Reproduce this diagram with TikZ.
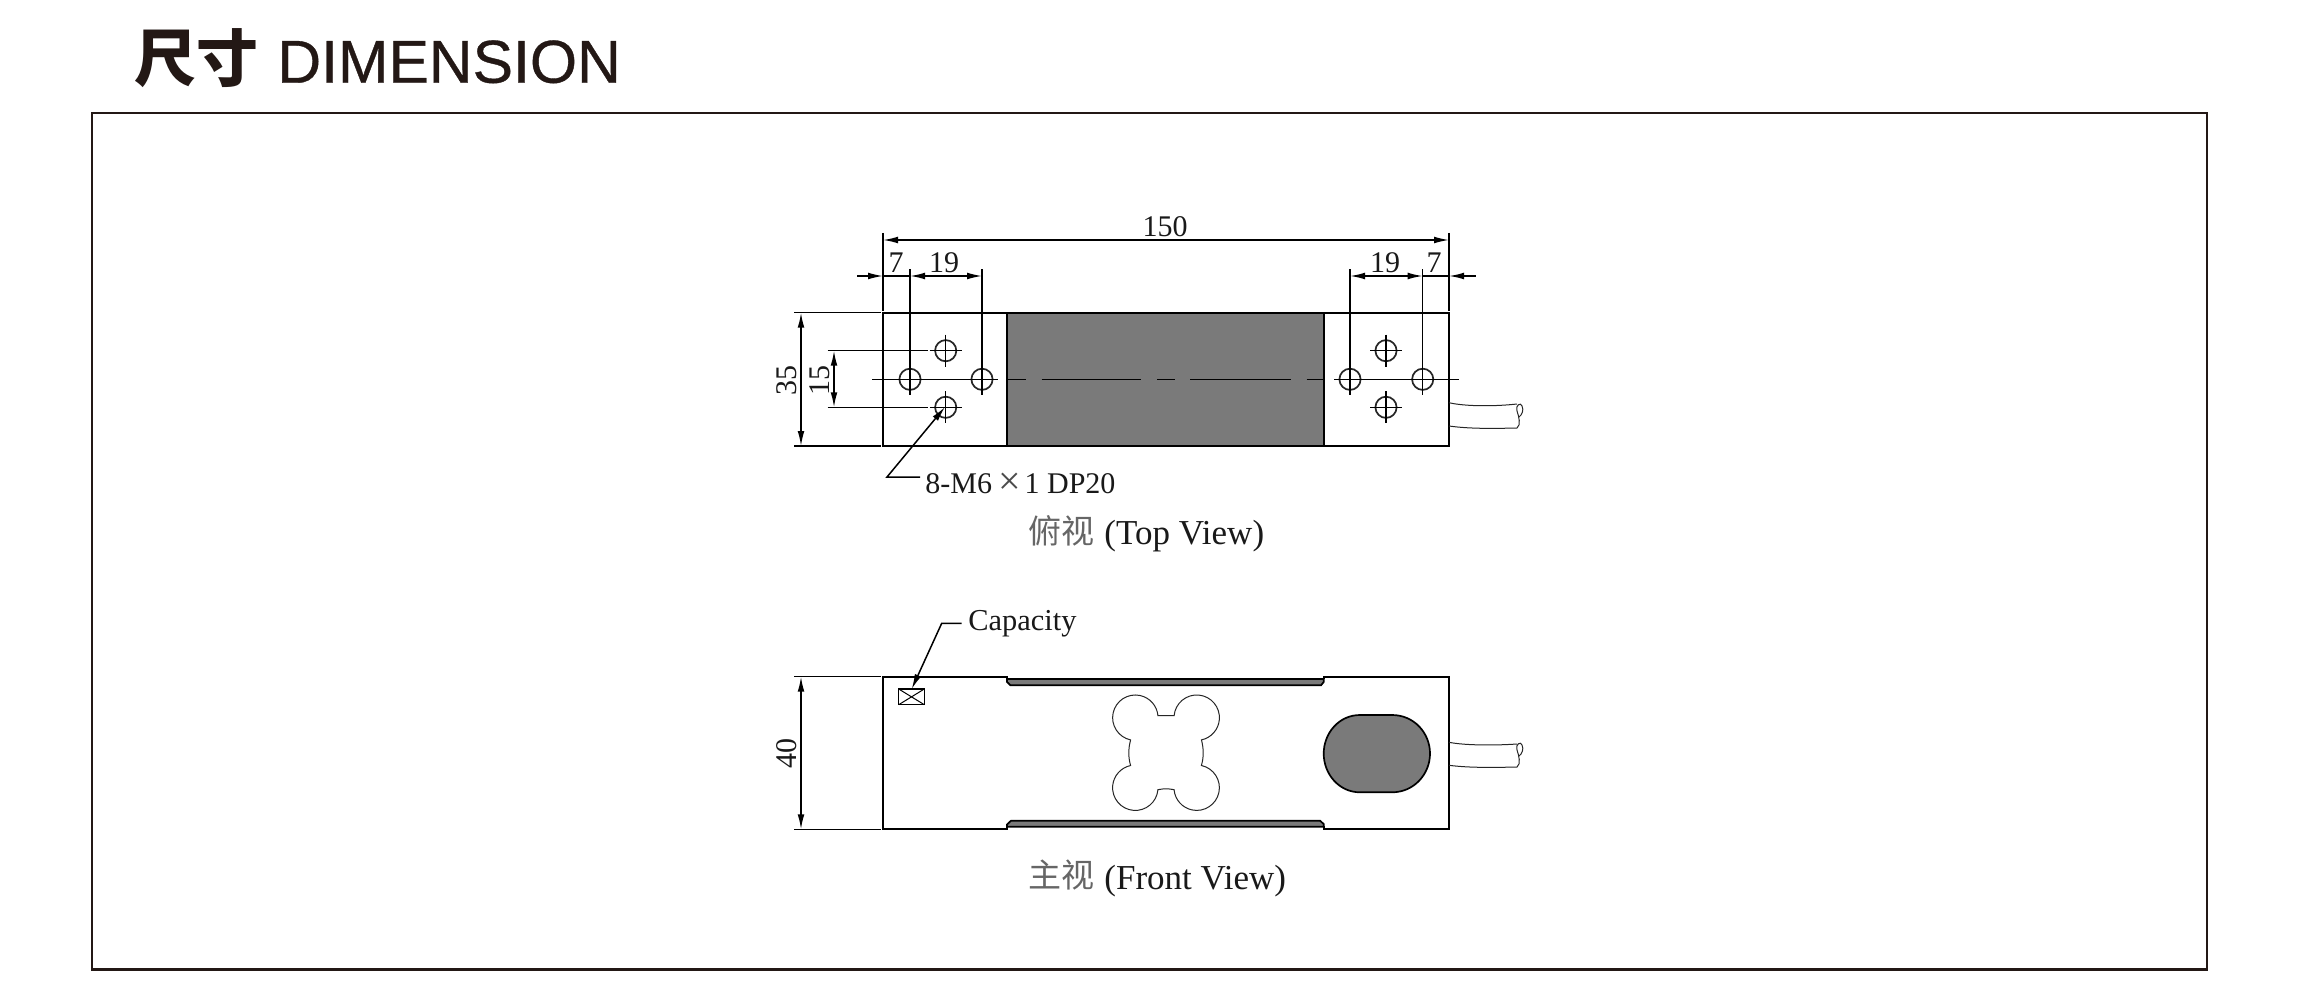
\documentclass[tikz,border=0pt]{standalone}
\usepackage{fontspec}
\setmainfont{Liberation Serif}
\newfontfamily\cjk{Noto Sans CJK SC}
\newfontfamily\ttl[FakeBold=0.6]{Liberation Sans}
\usetikzlibrary{arrows.meta}
\definecolor{ink}{HTML}{231815}
\definecolor{fillgrey}{HTML}{7A7A7A}
\tikzset{
  part/.style={draw=black,line width=0.85pt},
  thin part/.style={draw=black!85,line width=0.5pt},
  dimline/.style={draw=black,line width=0.75pt},
  ext/.style={draw=black,line width=0.75pt},
  dimarrow/.style={dimline,-{Latex[length=7.5pt,width=3.4pt]}},
  dimboth/.style={dimline,{Latex[length=7.5pt,width=3.4pt]}-{Latex[length=7.5pt,width=3.4pt]}},
  lbl/.style={inner sep=0pt,font=\fontsize{15}{15}\selectfont,text=black!90},
  captxt/.style={inner sep=0pt,font=\fontsize{17.5}{17.5}\selectfont,text=black!90},
  capcjk/.style={inner sep=0pt,font=\cjk\fontsize{16.5}{16.5}\selectfont,text=black!60},
  hole/.style={draw=black!85,line width=0.85pt},
}
\newcommand{\holecross}[2]{%
  \draw[hole] (#1,#2) circle[radius=5.3pt];
  \draw[dimline] (#1-16,#2) -- (#1+16,#2);
  \draw[dimline] (#1,#2-16) -- (#1,#2+16);
}
\begin{document}
\begin{tikzpicture}[x=0.5pt,y=-0.5pt]
\useasboundingbox (0,0) rectangle (2300,1000);
\fill[white] (0,0) rectangle (2300,1000);
% title and frame
\node[anchor=center,inner sep=0pt,text=ink,font=\cjk\bfseries\fontsize{31}{31}\selectfont] (ttlcn) at (196,58) {尺寸};
\node[anchor=base west,inner sep=0pt,text=ink,font=\ttl\fontsize{30.3}{30.3}\selectfont] (ttlen) at (277,82.7) {DIMENSION};
\draw[ink,line width=1.2pt] (92,113) rectangle (2207,969.3);

% ---------- top view
\draw[part,fill=fillgrey] (1007,312.7) rectangle (1323.7,446);
\draw[part] (883,312.7) rectangle (1449,446);
% centre line
\coordinate (cL) at (872,379.3); \coordinate (cR) at (1459,379.3);
\draw[dimline] (cL) -- (997,379.3);
\draw[dimline] (1007,379.3) -- (1025.7,379.3);
\draw[dimline] (1041.7,379.3) -- (1141,379.3);
\draw[dimline] (1157,379.3) -- (1175,379.3);
\draw[dimline] (1190,379.3) -- (1291,379.3);
\draw[dimline] (1306.7,379.3) -- (1323.7,379.3);
\draw[dimline] (1334,379.3) -- (cR);
% holes
\holecross{910}{379.3}
\holecross{982}{379.3}
\holecross{945.7}{350.7}
\holecross{945.7}{407.3}
\holecross{1350}{379.3}
\holecross{1422.7}{379.3}
\holecross{1386}{350.7}
\holecross{1386}{407.3}
% extension lines
\coordinate (e150a) at (883,233);   \coordinate (e150ab) at (883,311);
\coordinate (e150b) at (1449,233);  \coordinate (e150bb) at (1449,311);
\draw[ext] (e150a) -- (e150ab);
\draw[ext] (e150b) -- (e150bb);
\draw[ext] (910,269) -- (910,364);
\draw[ext] (982,269) -- (982,364);
\draw[ext] (1350,269) -- (1350,364);
\draw[ext] (1422.7,269) -- (1422.7,364);
\draw[ext] (794,312.7) -- (880.7,312.7);
\draw[ext] (794,446) -- (880.7,446);
\draw[ext] (827.7,350.7) -- (928,350.7);
\draw[ext] (827.7,407.3) -- (928,407.3);
% dimensions
\draw[dimboth] (883,240) -- (1449,240);
\node[lbl] (t150) at (1165,227) {150};
\coordinate (s7l) at (857,276);
\draw[dimarrow] (s7l) -- (883,276);
\draw[dimline] (883,276) -- (910,276);
\draw[dimboth] (910,276) -- (982,276);
\node[lbl] (t7l) at (896,263) {7};
\node[lbl] (t19l) at (944,263) {19};
\draw[dimboth] (1350,276) -- (1422.7,276);
\draw[dimline] (1422.7,276) -- (1449,276);
\coordinate (s7r) at (1475.7,276);
\draw[dimarrow] (s7r) -- (1449,276);
\node[lbl] (t19r) at (1385,263) {19};
\node[lbl] (t7r) at (1434,263) {7};
\draw[dimboth] (801,312.7) -- (801,446);
\node[lbl,rotate=90] (t35) at (787,380) {35};
\draw[dimboth] (834,350.7) -- (834,407.3);
\node[lbl,rotate=90] (t15) at (820,380) {15};
% leader
\coordinate (ltip) at (945,407);
\coordinate (lknee) at (887,477);
\coordinate (lend) at (920,477);
\draw[dimline,{Latex[length=7.5pt,width=3.4pt]}-] (ltip) -- (lknee) -- (lend);
\node[lbl,anchor=base west] (tm6) at (925,493) {8-M6\hspace{3.2pt}\raisebox{-0.6pt}{\fontsize{20}{20}\selectfont\textcolor{black!70}{×}}\hspace{1.8pt}1 DP20};
% cable
\draw[thin part] (1449,402.7) .. controls (1465,406.5) and (1495,406.5) .. (1517,404);
\draw[thin part] (1449,426) .. controls (1470,429) and (1495,428.5) .. (1517,428) .. controls (1521,425) and (1519,417) .. (1517,411) .. controls (1515,405) and (1521,402) .. (1522,406) .. controls (1524,410) and (1522,415) .. (1519,417);
% caption
\node[capcjk,anchor=center] (cpt) at (1061,531) {俯视};
\node[captxt,anchor=west] (cpte) at (1104,536) {(Top View)};

% ---------- front view
\draw[part] (1007,679) -- (1007,676.7) -- (883,676.7) -- (883,829.3) -- (1007,829.3) -- (1007,826);
\draw[part] (1323.7,679) -- (1323.7,676.7) -- (1449,676.7) -- (1449,829.3) -- (1323.7,829.3) -- (1323.7,826);
\draw[part,fill=fillgrey] (1007,678.9) -- (1007,682) -- (1010.5,685.3) -- (1321,685.3) -- (1323.7,682) -- (1323.7,678.9) -- cycle;
\draw[part,fill=fillgrey] (1007,826.8) -- (1007,824.5) -- (1011,820.7) -- (1320,820.7) -- (1323.7,824) -- (1323.7,826.8) -- cycle;
% label box
\draw[part,line width=0.75pt] (898.7,689) rectangle (924.3,704.7);
\draw[dimline,line width=0.5pt] (898.7,689) -- (924.3,704.7);
\draw[dimline,line width=0.5pt] (898.7,704.7) -- (924.3,689);
\coordinate (ctip) at (911.7,689);
\coordinate (cknee) at (941.7,623.3);
\coordinate (cend) at (961.7,623.3);
\draw[dimline,{Latex[length=7.5pt,width=3.4pt]}-] (ctip) -- (cknee) -- (cend);
\node[lbl,anchor=west,font=\fontsize{15.2}{15.2}\selectfont] (tcap) at (968,624) {Capacity};
% flexure
\draw[thin part]
  (1174.1,715.7)
  arc[start angle=175,end angle=-78,radius=11.35pt]
  .. controls (1203.8,749) and (1203.8,757) .. (1201.4,765.5)
  arc[start angle=78,end angle=-175,radius=11.35pt]
  .. controls (1168,788.5) and (1164,788.5) .. (1157.9,789.7)
  arc[start angle=-5,end angle=-258,radius=11.35pt]
  .. controls (1128.2,757) and (1128.2,749) .. (1130.6,739.9)
  arc[start angle=258,end angle=5,radius=11.35pt]
  -- cycle;
% slot
\draw[part,fill=fillgrey] (1360,715) -- (1392,715)
  .. controls (1414,715) and (1430,733) .. (1430,753.6)
  .. controls (1430,774) and (1414,792.3) .. (1392,792.3)
  -- (1360,792.3)
  .. controls (1339,792.3) and (1323.7,774) .. (1323.7,753.6)
  .. controls (1323.7,733) and (1339,715) .. (1360,715) -- cycle;
% dimension 40
\draw[ext] (794,676.7) -- (880.7,676.7);
\draw[ext] (794,829.3) -- (880.7,829.3);
\draw[dimboth] (801,676.7) -- (801,829.3);
\node[lbl,rotate=90] (t40) at (787,753) {40};
% cable
\draw[thin part] (1449,742.3) .. controls (1465,745.5) and (1495,745.5) .. (1517,744);
\draw[thin part] (1449,765.3) .. controls (1470,768) and (1495,767.5) .. (1517,767) .. controls (1521,764) and (1519,756) .. (1517,750) .. controls (1515,744) and (1521,741) .. (1522,745) .. controls (1524,749) and (1522,754) .. (1519,756);
% caption
\node[capcjk,anchor=center] (cpf) at (1061,875) {主视};
\node[captxt,anchor=west] (cpfe) at (1104,881) {(Front View)};
\end{tikzpicture}
\end{document}
